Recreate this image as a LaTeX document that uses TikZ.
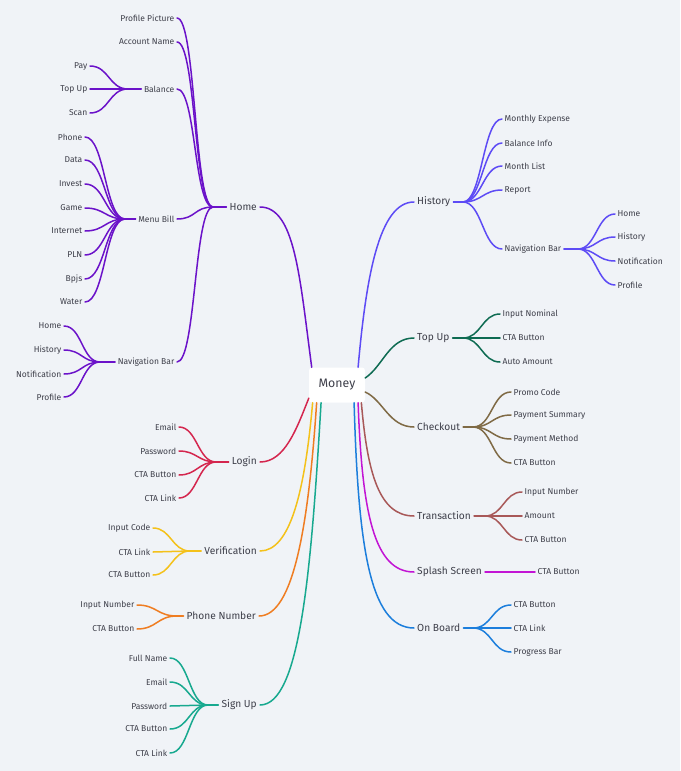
\documentclass[tikz,border=0pt]{standalone}
\usepackage{fontspec}
\setmainfont{Fira Sans}
\definecolor{bg}{HTML}{F0F3F7}
\definecolor{txt}{HTML}{3E3F4A}
\definecolor{homec}{HTML}{6B12C9}
\definecolor{histc}{HTML}{5D4BF5}
\definecolor{topupc}{HTML}{0E6B52}
\definecolor{checkc}{HTML}{7F6A45}
\definecolor{transc}{HTML}{A85858}
\definecolor{splashc}{HTML}{C214D4}
\definecolor{boardc}{HTML}{1C7EDC}
\definecolor{loginc}{HTML}{D4264E}
\definecolor{verifc}{HTML}{F4C11A}
\definecolor{phonec}{HTML}{EF7D22}
\definecolor{signc}{HTML}{17A98F}
\tikzset{
  leaf/.style={font=\fontsize{8.5}{10}\selectfont, text=txt, inner sep=2.5pt},
  branch/.style={font=\fontsize{10.2}{12}\selectfont, text=txt, inner sep=3pt},
  root/.style={font=\fontsize{12.3}{14}\selectfont, text=txt, fill=white, rounded corners=3pt,
    minimum width=56pt, minimum height=35pt},
  link/.style={line width=1.5pt, line cap=round}
}
\begin{document}
\begin{tikzpicture}[x=1pt, y=-1pt]
  \useasboundingbox (0,0) rectangle (680,771);
  \fill[bg] (0,0) rectangle (680,771);
  \node[root] (money) at (337,385) {Money};
  % home
  \node[branch, anchor=east] (home) at (260,207) {Home};
  \coordinate (jhome) at (213,207);
  \node[leaf, anchor=east] (pp)  at (177,18)  {Profile Picture};
  \node[leaf, anchor=east] (an)  at (177,42)  {Account Name};
  \node[leaf, anchor=east] (bal) at (177,89)  {Balance};
  \node[leaf, anchor=east] (mb)  at (177,219) {Menu Bill};
  \node[leaf, anchor=east] (nbl) at (177,362) {Navigation Bar};
  \coordinate (jbal) at (128,89);
  \node[leaf, anchor=east] (pay)  at (90,66)  {Pay};
  \node[leaf, anchor=east] (btu)  at (90,89)  {Top Up};
  \node[leaf, anchor=east] (scan) at (90,113) {Scan};
  \coordinate (jmb) at (125,219);
  \node[leaf, anchor=east] (phone) at (85,137) {Phone};
  \node[leaf, anchor=east] (data)  at (85,160) {Data};
  \node[leaf, anchor=east] (inv)   at (85,184) {Invest};
  \node[leaf, anchor=east] (game)  at (85,208) {Game};
  \node[leaf, anchor=east] (net)   at (85,231) {Internet};
  \node[leaf, anchor=east] (pln)   at (85,255) {PLN};
  \node[leaf, anchor=east] (bpjs)  at (85,279) {Bpjs};
  \node[leaf, anchor=east] (water) at (85,302) {Water};
  \coordinate (jnbl) at (100,362);
  \node[leaf, anchor=east] (nlhome) at (64,326) {Home};
  \node[leaf, anchor=east] (nlhist) at (64,350) {History};
  \node[leaf, anchor=east] (nlnoti) at (64,374) {Notification};
  \node[leaf, anchor=east] (nlprof) at (64,397) {Profile};
  \draw[link, homec] (money.145) .. controls +(-12,-90) and +(35,0) .. (home.east);
  \draw[link, homec] (home.west) -- (jhome);
  \foreach \c in {pp,an,bal,mb,nbl}
    \draw[link, homec] (jhome) .. controls +(-19,0) and +(19,0) .. (\c.east);
  \draw[link, homec] (bal.west) -- (jbal);
  \foreach \c in {pay,btu,scan}
    \draw[link, homec] (jbal) .. controls +(-19,0) and +(19,0) .. (\c.east);
  \draw[link, homec] (mb.west) -- (jmb);
  \foreach \c in {phone,data,inv,game,net,pln,bpjs,water}
    \draw[link, homec] (jmb) .. controls +(-20,0) and +(20,0) .. (\c.east);
  \draw[link, homec] (nbl.west) -- (jnbl);
  \foreach \c in {nlhome,nlhist,nlnoti,nlprof}
    \draw[link, homec] (jnbl) .. controls +(-18,0) and +(18,0) .. (\c.east);
  % history
  \node[branch, anchor=west] (hist) at (414,202) {History};
  \coordinate (jhist) at (463,202);
  \node[leaf, anchor=west] (hexp) at (502,119) {Monthly Expense};
  \node[leaf, anchor=west] (hbal) at (502,143) {Balance Info};
  \node[leaf, anchor=west] (hml)  at (502,166) {Month List};
  \node[leaf, anchor=west] (hrep) at (502,190) {Report};
  \node[leaf, anchor=west] (nbr)  at (502,249) {Navigation Bar};
  \coordinate (jnbr) at (578,249);
  \node[leaf, anchor=west] (nrhome) at (615,214) {Home};
  \node[leaf, anchor=west] (nrhist) at (615,237) {History};
  \node[leaf, anchor=west] (nrnoti) at (615,261) {Notification};
  \node[leaf, anchor=west] (nrprof) at (615,285) {Profile};
  \draw[link, histc] (money.40) .. controls +(8,-90) and +(-35,0) .. (hist.west);
  \draw[link, histc] (hist.east) -- (jhist);
  \foreach \c in {hexp,hbal,hml,hrep,nbr}
    \draw[link, histc] (jhist) .. controls +(19,0) and +(-19,0) .. (\c.west);
  \draw[link, histc] (nbr.east) -- (jnbr);
  \foreach \c in {nrhome,nrhist,nrnoti,nrprof}
    \draw[link, histc] (jnbr) .. controls +(18,0) and +(-18,0) .. (\c.west);
  % top up
  \node[branch, anchor=west] (tu) at (414,338) {Top Up};
  \coordinate (jtu) at (463,338);
  \node[leaf, anchor=west] (tunom) at (500,314) {Input Nominal};
  \node[leaf, anchor=west] (tucta) at (500,338) {CTA Button};
  \node[leaf, anchor=west] (tuamt) at (500,362) {Auto Amount};
  \draw[link, topupc] (money.14) .. controls +(18,-12) and +(-25,0) .. (tu.west);
  \draw[link, topupc] (tu.east) -- (jtu);
  \foreach \c in {tunom,tucta,tuamt}
    \draw[link, topupc] (jtu) .. controls +(18,0) and +(-18,0) .. (\c.west);
  % checkout
  \node[branch, anchor=west] (co) at (414,427) {Checkout};
  \coordinate (jco) at (473,427);
  \node[leaf, anchor=west] (copro) at (511,392) {Promo Code};
  \node[leaf, anchor=west] (cosum) at (511,415) {Payment Summary};
  \node[leaf, anchor=west] (comet) at (511,439) {Payment Method};
  \node[leaf, anchor=west] (cocta) at (511,463) {CTA Button};
  \draw[link, checkc] (money.-14) .. controls +(18,8) and +(-25,0) .. (co.west);
  \draw[link, checkc] (co.east) -- (jco);
  \foreach \c in {copro,cosum,comet,cocta}
    \draw[link, checkc] (jco) .. controls +(19,0) and +(-19,0) .. (\c.west);
  % transaction
  \node[branch, anchor=west] (tr) at (414,516) {Transaction};
  \coordinate (jtr) at (485,516);
  \node[leaf, anchor=west] (trnum) at (522,492) {Input Number};
  \node[leaf, anchor=west] (tramt) at (522,516) {Amount};
  \node[leaf, anchor=west] (trcta) at (522,540) {CTA Button};
  \draw[link, transc] (money.-36) .. controls +(6,70) and +(-35,0) .. (tr.west);
  \draw[link, transc] (tr.east) -- (jtr);
  \foreach \c in {trnum,tramt,trcta}
    \draw[link, transc] (jtr) .. controls +(18,0) and +(-18,0) .. (\c.west);
  % splash screen
  \node[branch, anchor=west] (ss) at (414,572) {Splash Screen};
  \node[leaf, anchor=west] (sscta) at (535,572) {CTA Button};
  \draw[link, splashc] (money.-40) .. controls +(4,110) and +(-40,0) .. (ss.west);
  \draw[link, splashc] (ss.east) -- (sscta.west);
  % on board
  \node[branch, anchor=west] (ob) at (414,628) {On Board};
  \coordinate (job) at (473,628);
  \node[leaf, anchor=west] (obcta) at (511,605) {CTA Button};
  \node[leaf, anchor=west] (oblnk) at (511,628) {CTA Link};
  \node[leaf, anchor=west] (obbar) at (511,652) {Progress Bar};
  \draw[link, boardc] (money.-46) .. controls +(4,140) and +(-45,0) .. (ob.west);
  \draw[link, boardc] (ob.east) -- (job);
  \foreach \c in {obcta,oblnk,obbar}
    \draw[link, boardc] (job) .. controls +(19,0) and +(-19,0) .. (\c.west);
  % login
  \node[branch, anchor=east] (lg) at (260,462) {Login};
  \coordinate (jlg) at (216,462);
  \node[leaf, anchor=east] (lgmail) at (179,427) {Email};
  \node[leaf, anchor=east] (lgpass) at (179,451) {Password};
  \node[leaf, anchor=east] (lgcta)  at (179,475) {CTA Button};
  \node[leaf, anchor=east] (lglnk)  at (179,498) {CTA Link};
  \draw[link, loginc] (money.205) .. controls +(-12,30) and +(25,0) .. (lg.east);
  \draw[link, loginc] (lg.west) -- (jlg);
  \foreach \c in {lgmail,lgpass,lgcta,lglnk}
    \draw[link, loginc] (jlg) .. controls +(-18,0) and +(18,0) .. (\c.east);
  % verification
  \node[branch, anchor=east] (vf) at (260,551) {Verification};
  \coordinate (jvf) at (190,551);
  \node[leaf, anchor=east] (vfcode) at (153,528) {Input Code};
  \node[leaf, anchor=east] (vflnk)  at (153,552) {CTA Link};
  \node[leaf, anchor=east] (vfcta)  at (153,575) {CTA Button};
  \draw[link, verifc] (money.216) .. controls +(-8,90) and +(30,0) .. (vf.east);
  \draw[link, verifc] (vf.west) -- (jvf);
  \foreach \c in {vfcode,vflnk,vfcta}
    \draw[link, verifc] (jvf) .. controls +(-18,0) and +(18,0) .. (\c.east);
  % phone number
  \node[branch, anchor=east] (pn) at (259,616) {Phone Number};
  \coordinate (jpn) at (177,616);
  \node[leaf, anchor=east] (pnnum) at (137,605) {Input Number};
  \node[leaf, anchor=east] (pncta) at (137,629) {CTA Button};
  \draw[link, phonec] (money.221) .. controls +(-8,120) and +(35,0) .. (pn.east);
  \draw[link, phonec] (pn.west) -- (jpn);
  \foreach \c in {pnnum,pncta}
    \draw[link, phonec] (jpn) .. controls +(-20,0) and +(20,0) .. (\c.east);
  % sign up
  \node[branch, anchor=east] (su) at (260,705) {Sign Up};
  \coordinate (jsu) at (208,705);
  \node[leaf, anchor=east] (suname) at (170,658) {Full Name};
  \node[leaf, anchor=east] (sumail) at (170,682) {Email};
  \node[leaf, anchor=east] (supass) at (170,706) {Password};
  \node[leaf, anchor=east] (sucta)  at (170,729) {CTA Button};
  \node[leaf, anchor=east] (sulnk)  at (170,753) {CTA Link};
  \draw[link, signc] (money.228) .. controls +(-10,170) and +(40,0) .. (su.east);
  \draw[link, signc] (su.west) -- (jsu);
  \foreach \c in {suname,sumail,supass,sucta,sulnk}
    \draw[link, signc] (jsu) .. controls +(-19,0) and +(19,0) .. (\c.east);
\end{tikzpicture}
\end{document}
